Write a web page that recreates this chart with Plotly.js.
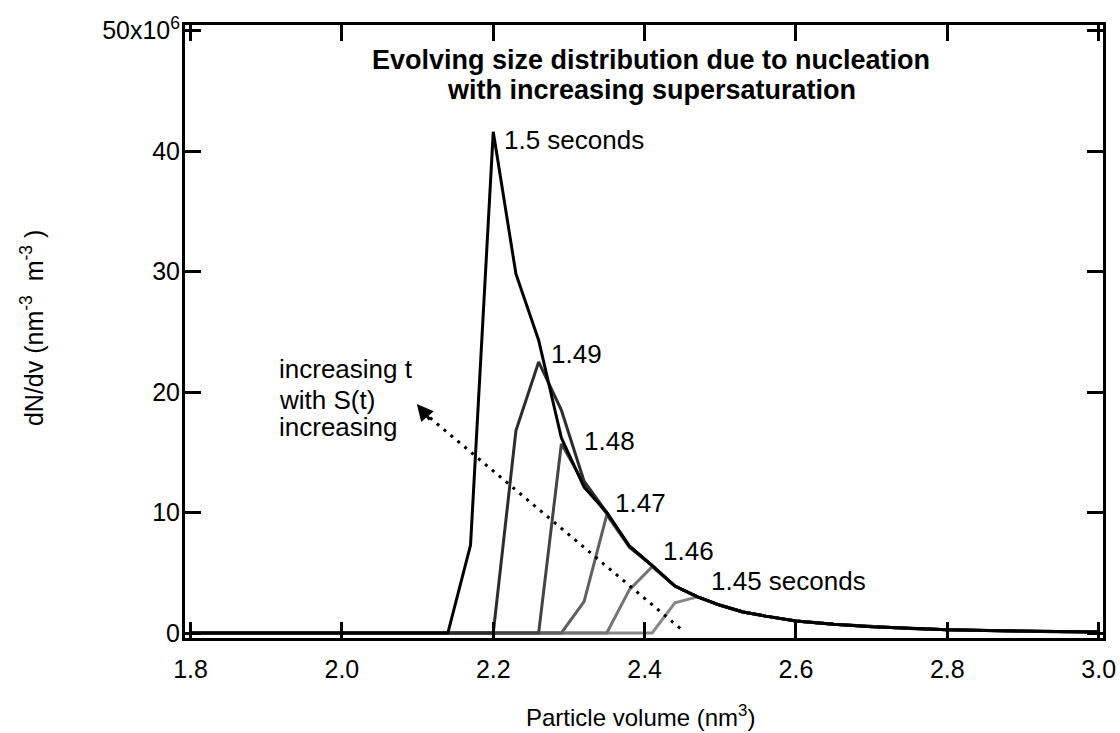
<!DOCTYPE html>
<html>
<head>
<meta charset="utf-8">
<script src="https://cdn.plot.ly/plotly-3.0.1.min.js"></script>
<style>html,body{margin:0;padding:0;background:#fff;}#chart{width:1120px;height:733px;}</style>
</head>
<body>
<div id="chart"></div>
<script>
// Particle volume (nm^3)
const volume = [1.8, 2.14, 2.17, 2.20, 2.23, 2.26, 2.29, 2.32, 2.35, 2.38, 2.41, 2.44, 2.47, 2.50, 2.53, 2.56, 2.60, 2.65, 2.70, 2.75, 2.80, 2.85, 2.90, 2.95, 3.00];
// dN/dv in units of 10^6 nm^-3 m^-3
const t150 = [0, 0, 7.3, 41.6, 29.8, 24.3, 16.2, 12.1, 10.0, 7.2, 5.6, 3.9, 3.0, 2.3, 1.75, 1.4, 1.0, 0.72, 0.52, 0.38, 0.28, 0.2, 0.15, 0.11, 0.08];
const t149 = [0, 0, 0, 0, 16.8, 22.5, 18.5, 12.6, 10.0, 7.2, 5.6, 3.9, 3.0, 2.3, 1.75, 1.4, 1.0, 0.72, 0.52, 0.38, 0.28, 0.2, 0.15, 0.11, 0.08];
const t148 = [0, 0, 0, 0, 0, 0, 15.7, 12.4, 9.9, 7.2, 5.6, 3.9, 3.0, 2.3, 1.75, 1.4, 1.0, 0.72, 0.52, 0.38, 0.28, 0.2, 0.15, 0.11, 0.08];
const t147 = [0, 0, 0, 0, 0, 0, 0, 2.6, 9.8, 7.1, 5.6, 3.9, 3.0, 2.3, 1.75, 1.4, 1.0, 0.72, 0.52, 0.38, 0.28, 0.2, 0.15, 0.11, 0.08];
const t146 = [0, 0, 0, 0, 0, 0, 0, 0, 0, 3.6, 5.5, 3.9, 3.0, 2.3, 1.75, 1.4, 1.0, 0.72, 0.52, 0.38, 0.28, 0.2, 0.15, 0.11, 0.08];
const t145 = [0, 0, 0, 0, 0, 0, 0, 0, 0, 0, 0, 2.5, 3.0, 2.3, 1.75, 1.4, 1.0, 0.72, 0.52, 0.38, 0.28, 0.2, 0.15, 0.11, 0.08];

const seriesNames = ['1.45 seconds', '1.46', '1.47', '1.48', '1.49', '1.5 seconds'];
const seriesData = [t145, t146, t147, t148, t149, t150];
const seriesColors = ['#888888', '#747474', '#606060', '#444444', '#2c2c2c', '#000000'];

const yTickVals = [0, 10, 20, 30, 40, 50];
const yTickText = ['0', '10', '20', '30', '40', '50x10<sup>6</sup>'];
const xTickVals = [1.8, 2.0, 2.2, 2.4, 2.6, 2.8, 3.0];
const xTickText = ['1.8', '2.0', '2.2', '2.4', '2.6', '2.8', '3.0'];

// label positions (data coords)
const labelX = [2.4845, 2.421, 2.358, 2.317, 2.274, 2.212];
const labelY = [4.3, 6.8, 10.8, 15.9, 23.2, 40.9];

const titleLines = ['Evolving size distribution due to nucleation', 'with increasing supersaturation'];
const titleY = [47.6, 45.1];
const noteLines = ['increasing t', 'with S(t)', 'increasing'];
const noteY = [21.9, 19.35, 17.1];

// arrow (increasing t)
const arrowTail = [2.447, 0.39];
const arrowTip = [2.099, 19.0];

const FONT = 'Liberation Sans, Arial, Helvetica, sans-serif';

const traces = seriesData.map((d, i) => ({
  x: volume, y: d, type: 'scatter', mode: 'lines', name: seriesNames[i],
  line: {color: seriesColors[i], width: 3}, hoverinfo: 'x+y'
}));

const annotations = seriesNames.map((n, i) => ({
  x: labelX[i], y: labelY[i], xref: 'x', yref: 'y', text: n, showarrow: false,
  xanchor: 'left', yanchor: 'middle', font: {family: FONT, size: 26, color: '#000'}
}));
titleLines.forEach((t, i) => annotations.push({
  x: 2.409, y: titleY[i], xref: 'x', yref: 'y', showarrow: false,
  text: '<b>' + t + '</b>', font: {family: FONT, size: 27, color: '#000'},
  xanchor: 'center', yanchor: 'middle'
}));
noteLines.forEach((t, i) => annotations.push({
  x: 1.914, y: noteY[i], xref: 'x', yref: 'y', showarrow: false,
  text: t, font: {family: FONT, size: 26, color: '#000'}, xanchor: 'left', yanchor: 'middle'
}));
annotations.push({
  x: arrowTip[0], y: arrowTip[1], ax: 2.118, ay: 17.6, xref: 'x', yref: 'y', axref: 'x', ayref: 'y',
  text: '', showarrow: true, arrowhead: 2, arrowsize: 1.1, arrowwidth: 3, arrowcolor: '#000'
});
// axis titles
annotations.push({
  x: 0.4967, y: -0.127, xref: 'paper', yref: 'paper', showarrow: false,
  text: 'Particle volume (nm<sup>3</sup>)', font: {family: FONT, size: 24, color: '#000'},
  xanchor: 'center', yanchor: 'middle'
});
annotations.push({
  x: -0.166, y: 0.505, xref: 'paper', yref: 'paper', showarrow: false, textangle: -90,
  text: 'dN/dv (nm<sup>-3</sup>&nbsp; m<sup>-3</sup>&nbsp;)', font: {family: FONT, size: 25, color: '#000'},
  xanchor: 'center', yanchor: 'middle'
});

const layout = {
  width: 1120, height: 733,
  margin: {l: 185, r: 17, t: 25, b: 95},
  paper_bgcolor: '#fff', plot_bgcolor: '#fff',
  showlegend: false,
  font: {family: FONT, size: 25, color: '#000'},
  xaxis: {
    range: [1.7927, 3.0057], tickvals: xTickVals, ticktext: xTickText,
    showgrid: false, zeroline: false, showline: true, linewidth: 3, linecolor: '#000', mirror: 'allticks',
    ticks: 'inside', ticklen: 16, tickwidth: 3, tickcolor: '#000', ticklabelstandoff: 7,
    tickfont: {family: FONT, size: 25}
  },
  yaxis: {
    range: [-0.415, 50.47], tickvals: yTickVals, ticktext: yTickText,
    showgrid: false, zeroline: false, showline: true, linewidth: 3, linecolor: '#000', mirror: 'allticks',
    ticks: 'inside', ticklen: 16, tickwidth: 3, tickcolor: '#000', ticklabelstandoff: -3,
    tickfont: {family: FONT, size: 25}
  },
  shapes: [{
    type: 'line', xref: 'x', yref: 'y', x0: arrowTail[0], y0: arrowTail[1], x1: 2.112, y1: 18.1,
    line: {color: '#000', width: 3, dash: '3px,6px'}
  }],
  annotations: annotations
};

Plotly.newPlot('chart', traces, layout, {displayModeBar: false, staticPlot: true});
</script>
</body>
</html>
